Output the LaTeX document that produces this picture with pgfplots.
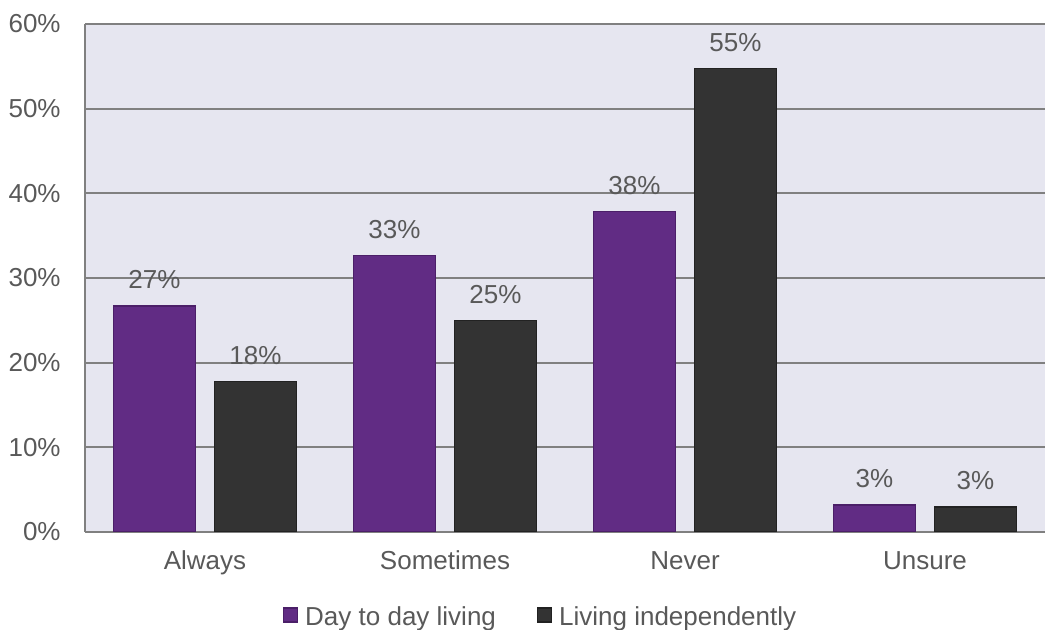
\documentclass[border=0pt]{standalone}
\usepackage{fontspec}
\setmainfont{Liberation Sans}
\usepackage{pgfplots}
\pgfplotsset{compat=1.18}

\definecolor{daycol}{HTML}{612C84}
\definecolor{dayedge}{HTML}{4B1F68}
\definecolor{indcol}{HTML}{333333}
\definecolor{indedge}{HTML}{222222}
\definecolor{plotbg}{HTML}{E6E6F0}
\definecolor{gridcol}{HTML}{808080}
\definecolor{textcol}{HTML}{595959}

\newcommand{\chartfont}{\fontsize{13bp}{15bp}\selectfont}

\begin{document}
\begin{tikzpicture}
\begin{axis}[
  at={(42.5bp,49bp)}, anchor=south west,
  width=480bp, height=254bp, scale only axis,
  ymin=0, ymax=60, xmin=-0.5, xmax=3.5,
  ybar=9.25bp, bar width=41.25bp,
  /pgf/number format/assume math mode=true,
  xtick={0,1,2,3},
  xticklabels={Always,Sometimes,Never,Unsure},
  ytick={0,10,...,60},
  yticklabel={\pgfmathprintnumber{\tick}\%},
  axis lines*=left,
  axis line style={-, draw=gridcol, line width=1bp},
  major tick length=0pt,
  ymajorgrids,
  grid style={draw=gridcol, line width=1bp},
  axis background/.style={fill=plotbg},
  tick label style={font=\chartfont, text=textcol},
  xticklabel style={anchor=base, yshift=-18.9bp, inner sep=0pt},
  yticklabel style={anchor=east, xshift=-12bp, inner sep=0pt},
  nodes near coords={\pgfmathprintnumber[fixed,precision=0]{\pgfplotspointmeta}\%},
  nodes near coords style={font=\chartfont, text=textcol, anchor=center, yshift=13bp},
  legend image code/.code={\draw[#1] (0bp,-2.2bp) rectangle (7bp,4.8bp);},
  legend style={
    at={(axis description cs:0.20625,-0.19)}, anchor=south west,
    draw=none, fill=none, inner sep=0pt, outer sep=0pt,
    legend columns=2, font=\chartfont, text=textcol,
    nodes={inner sep=0pt},
    /tikz/every odd column/.append style={column sep=3.5bp},
    /tikz/every even column/.append style={column sep=20.5bp},
  },
]
\addplot[fill=daycol, draw=dayedge, line width=0.6bp]
  coordinates {(0,26.7) (1,32.7) (2,37.9) (3,3.2)};
\addplot[fill=indcol, draw=indedge, line width=0.6bp]
  coordinates {(0,17.8) (1,25.0) (2,54.7) (3,2.95)};
\legend{Day to day living, Living independently}
\end{axis}
\pgfresetboundingbox
\useasboundingbox (0,0) rectangle (522.5bp,315bp);
\end{tikzpicture}
\end{document}
